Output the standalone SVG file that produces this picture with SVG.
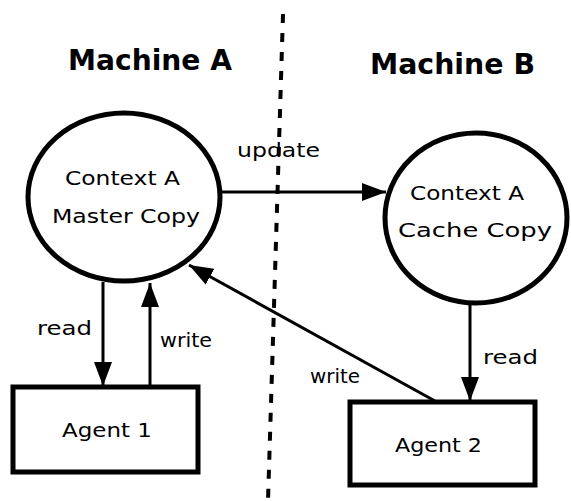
<svg xmlns="http://www.w3.org/2000/svg" width="571" height="501" viewBox="0 0 571 501">
  <style>
    .title { font-family: "DejaVu Sans", "Liberation Sans", sans-serif; font-weight: bold; font-size: 29px; fill: #000; }
    .lbl { font-family: "DejaVu Sans", "Liberation Sans", sans-serif; font-size: 20px; fill: #000; }
    .node { fill: #fff; stroke: #000; stroke-width: 5; }
    .box { fill: #fff; stroke: #000; stroke-width: 5; }
    .edge { fill: none; stroke: #000; stroke-width: 3; }
    .divider { fill: none; stroke: #000; stroke-width: 4; stroke-dasharray: 9 10; }
  </style>
  <defs>
    <marker id="arrow" markerUnits="userSpaceOnUse" markerWidth="26" markerHeight="20" refX="24" refY="10" orient="auto">
      <path d="M0,1 L24,10 L0,19 Z" fill="#000"/>
    </marker>
  </defs>
  <rect width="571" height="501" fill="#fff"/>

  <!-- machine boundary -->
  <path class="divider" d="M283,14 L268,501"/>

  <text class="title" x="68" y="70" textLength="164" lengthAdjust="spacingAndGlyphs">Machine A</text>
  <text class="title" x="370" y="74" textLength="165" lengthAdjust="spacingAndGlyphs">Machine B</text>

  <g id="connectors">
    <line class="edge" x1="220" y1="192" x2="386" y2="192" marker-end="url(#arrow)"/>
    <line class="edge" x1="103" y1="282" x2="103" y2="386" marker-end="url(#arrow)"/>
    <line class="edge" x1="150" y1="386" x2="150" y2="283" marker-end="url(#arrow)"/>
    <line class="edge" x1="470" y1="303" x2="470" y2="401" marker-end="url(#arrow)"/>
    <line class="edge" x1="435" y1="401" x2="189" y2="265" marker-end="url(#arrow)"/>
    <text class="lbl" x="237" y="157" textLength="83" lengthAdjust="spacingAndGlyphs">update</text>
    <text class="lbl" x="37" y="335" textLength="55" lengthAdjust="spacingAndGlyphs">read</text>
    <text class="lbl" x="160" y="347" textLength="52" lengthAdjust="spacingAndGlyphs">write</text>
    <text class="lbl" x="310" y="383" textLength="50" lengthAdjust="spacingAndGlyphs">write</text>
    <text class="lbl" x="483" y="364" textLength="55" lengthAdjust="spacingAndGlyphs">read</text>
  </g>

  <g id="context-master">
    <ellipse class="node" cx="124" cy="197" rx="96" ry="84"/>
    <text class="lbl" x="65" y="185" textLength="115" lengthAdjust="spacingAndGlyphs">Context A</text>
    <text class="lbl" x="52" y="223" textLength="148" lengthAdjust="spacingAndGlyphs">Master Copy</text>
  </g>

  <g id="context-cache">
    <ellipse class="node" cx="476" cy="218" rx="91" ry="85"/>
    <text class="lbl" x="410" y="200" textLength="114" lengthAdjust="spacingAndGlyphs">Context A</text>
    <text class="lbl" x="398" y="237" textLength="154" lengthAdjust="spacingAndGlyphs">Cache Copy</text>
  </g>

  <g id="agent-1">
    <rect class="box" x="13" y="387" width="185" height="85"/>
    <text class="lbl" x="62" y="437" textLength="90" lengthAdjust="spacingAndGlyphs">Agent 1</text>
  </g>

  <g id="agent-2">
    <rect class="box" x="350" y="402" width="185" height="83"/>
    <text class="lbl" x="395" y="452" textLength="87" lengthAdjust="spacingAndGlyphs">Agent 2</text>
  </g>
</svg>
